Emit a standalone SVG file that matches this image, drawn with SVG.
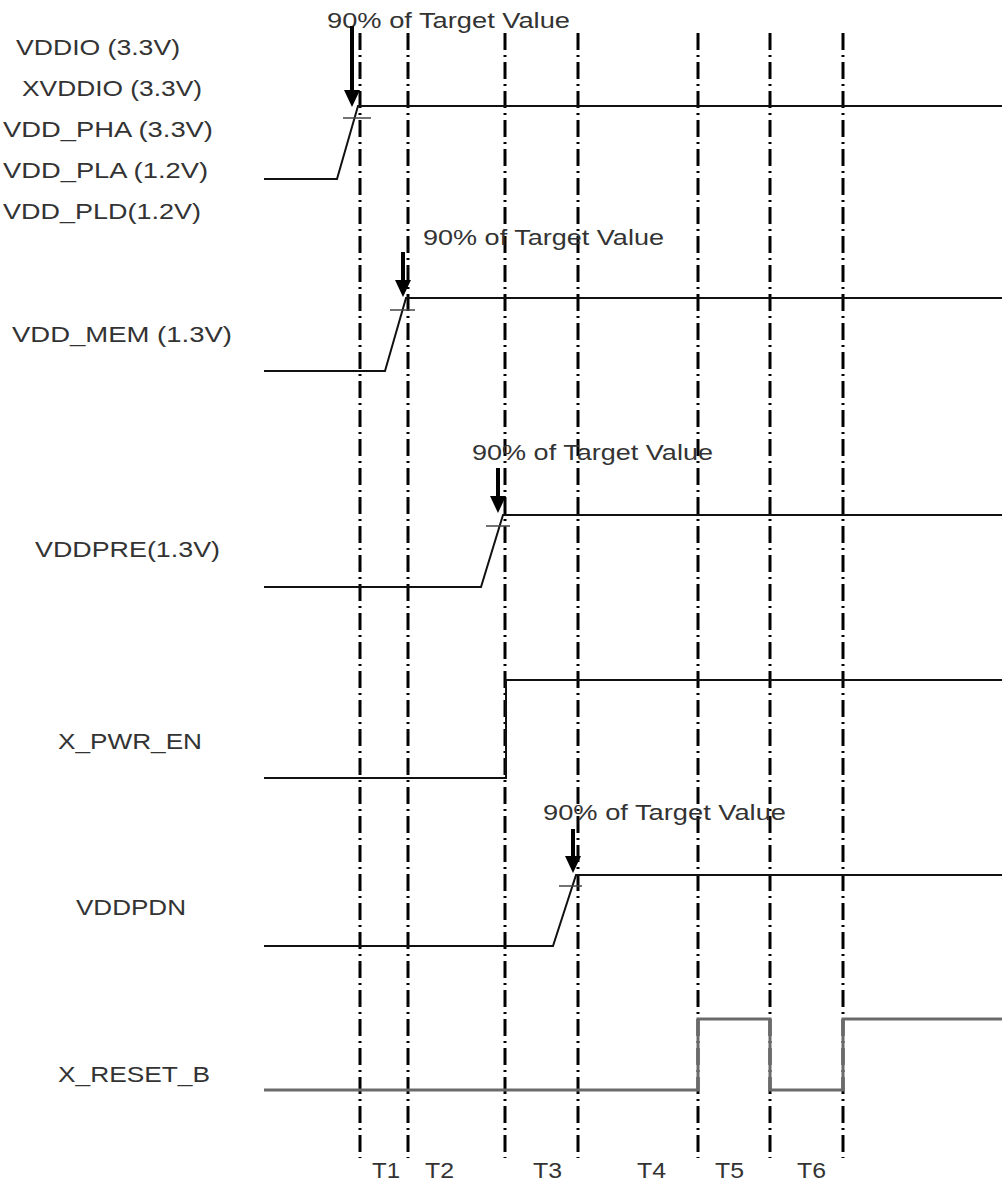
<svg xmlns="http://www.w3.org/2000/svg" width="1002" height="1184" viewBox="0 0 1002 1184">
  <style>
    text { font-family: "Liberation Sans", Arial, sans-serif; font-size: 22px; fill: #333; }
    .sig { fill: none; stroke: #111; stroke-width: 2; }
    .rst { fill: none; stroke: #6a6a6a; stroke-width: 3; }
    .tick { fill: none; stroke: #444; stroke-width: 1.5; }
    .mark { fill: none; stroke: #000; stroke-width: 3; stroke-dasharray: 17 5 2 5; }
    .shaft { stroke: #000; stroke-width: 4; }
    .head { fill: #000; }
  </style>
  <rect width="1002" height="1184" fill="#fff"/>

  <g id="time-markers">
    <line class="mark" x1="360" y1="33" x2="360" y2="1158"/>
    <line class="mark" x1="408" y1="33" x2="408" y2="1158"/>
    <line class="mark" x1="505" y1="33" x2="505" y2="1158"/>
    <line class="mark" x1="578" y1="33" x2="578" y2="1158"/>
    <line class="mark" x1="698" y1="33" x2="698" y2="1158"/>
    <line class="mark" x1="770" y1="33" x2="770" y2="1158"/>
    <line class="mark" x1="843" y1="33" x2="843" y2="1158"/>
  </g>

  <g id="sig-vddio">
    <text x="16" y="55" textLength="164" lengthAdjust="spacingAndGlyphs">VDDIO (3.3V)</text>
    <text x="22" y="96" textLength="180" lengthAdjust="spacingAndGlyphs">XVDDIO (3.3V)</text>
    <text x="3" y="137" textLength="210" lengthAdjust="spacingAndGlyphs">VDD_PHA (3.3V)</text>
    <text x="3" y="178" textLength="205" lengthAdjust="spacingAndGlyphs">VDD_PLA (1.2V)</text>
    <text x="3" y="219" textLength="198" lengthAdjust="spacingAndGlyphs">VDD_PLD(1.2V)</text>
    <polyline class="sig" points="264,179 337,179 358,106 1002,106"/>
    <line class="tick" x1="343" y1="118" x2="371" y2="118"/>
    <text x="327" y="28" textLength="243" lengthAdjust="spacingAndGlyphs">90% of Target Value</text>
  </g>

  <g id="sig-vdd-mem">
    <text x="12" y="342" textLength="220" lengthAdjust="spacingAndGlyphs">VDD_MEM (1.3V)</text>
    <polyline class="sig" points="264,371 385,371 406,298 1002,298"/>
    <line class="tick" x1="390" y1="310" x2="415" y2="310"/>
    <text x="423" y="245" textLength="241" lengthAdjust="spacingAndGlyphs">90% of Target Value</text>
  </g>

  <g id="sig-vddpre">
    <text x="35" y="557" textLength="185" lengthAdjust="spacingAndGlyphs">VDDPRE(1.3V)</text>
    <polyline class="sig" points="264,587 481,587 503,515 1002,515"/>
    <line class="tick" x1="486" y1="526" x2="510" y2="526"/>
    <text x="472" y="460" textLength="241" lengthAdjust="spacingAndGlyphs">90% of Target Value</text>
  </g>

  <g id="sig-x-pwr-en">
    <text x="58" y="749" textLength="144" lengthAdjust="spacingAndGlyphs">X_PWR_EN</text>
    <polyline class="sig" points="264,778 506,778 506,680 1002,680"/>
  </g>

  <g id="sig-vddpdn">
    <text x="76" y="915" textLength="110" lengthAdjust="spacingAndGlyphs">VDDPDN</text>
    <polyline class="sig" points="264,946 553,946 576,875 1002,875"/>
    <line class="tick" x1="559" y1="886" x2="582" y2="886"/>
    <text x="543" y="820" textLength="243" lengthAdjust="spacingAndGlyphs">90% of Target Value</text>
  </g>

  <g id="sig-x-reset-b">
    <text x="58" y="1082" textLength="152" lengthAdjust="spacingAndGlyphs">X_RESET_B</text>
    <polyline class="rst" points="264,1090 698,1090 698,1019 770,1019 770,1090 843,1090 843,1019 1002,1019"/>
  </g>

  <g id="period-labels">
    <text x="372" y="1178" textLength="28" lengthAdjust="spacingAndGlyphs">T1</text>
    <text x="425" y="1178" textLength="29" lengthAdjust="spacingAndGlyphs">T2</text>
    <text x="533" y="1178" textLength="29" lengthAdjust="spacingAndGlyphs">T3</text>
    <text x="637" y="1178" textLength="29" lengthAdjust="spacingAndGlyphs">T4</text>
    <text x="715" y="1178" textLength="29" lengthAdjust="spacingAndGlyphs">T5</text>
    <text x="797" y="1178" textLength="29" lengthAdjust="spacingAndGlyphs">T6</text>
  </g>

  <g id="connectors">
    <line class="shaft" x1="352" y1="26" x2="352" y2="92"/>
    <polygon class="head" points="344,90 360,90 352,107"/>
    <line class="shaft" x1="403" y1="252" x2="403" y2="282"/>
    <polygon class="head" points="395,280 411,280 403,297"/>
    <line class="shaft" x1="498" y1="468" x2="498" y2="498"/>
    <polygon class="head" points="490,496 506,496 498,513"/>
    <line class="shaft" x1="573" y1="829" x2="573" y2="858"/>
    <polygon class="head" points="565,856 581,856 573,873"/>
  </g>
</svg>
